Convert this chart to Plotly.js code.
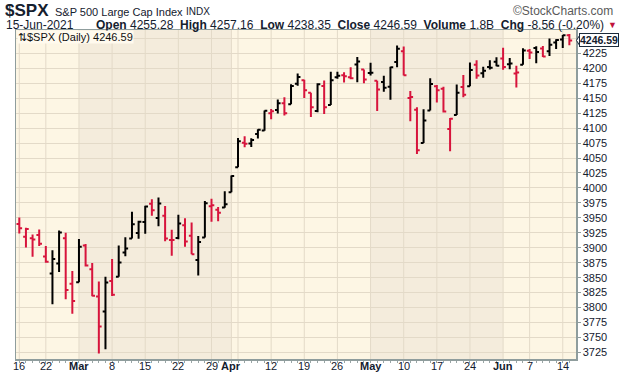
<!DOCTYPE html>
<html>
<head>
<meta charset="utf-8">
<script src="https://cdn.plot.ly/plotly-3.0.1.min.js"></script>
<style>
html,body{margin:0;padding:0;background:#fff;}
#chart{width:620px;height:376px;}
</style>
</head>
<body>
<div id="chart"></div>
<script>
// ---- data ----
const dates = [
"2021-02-16","2021-02-17","2021-02-18","2021-02-19",
"2021-02-22","2021-02-23","2021-02-24","2021-02-25","2021-02-26",
"2021-03-01","2021-03-02","2021-03-03","2021-03-04","2021-03-05",
"2021-03-08","2021-03-09","2021-03-10","2021-03-11","2021-03-12",
"2021-03-15","2021-03-16","2021-03-17","2021-03-18","2021-03-19",
"2021-03-22","2021-03-23","2021-03-24","2021-03-25","2021-03-26",
"2021-03-29","2021-03-30","2021-03-31","2021-04-01",
"2021-04-05","2021-04-06","2021-04-07","2021-04-08","2021-04-09",
"2021-04-12","2021-04-13","2021-04-14","2021-04-15","2021-04-16",
"2021-04-19","2021-04-20","2021-04-21","2021-04-22","2021-04-23",
"2021-04-26","2021-04-27","2021-04-28","2021-04-29","2021-04-30",
"2021-05-03","2021-05-04","2021-05-05","2021-05-06","2021-05-07",
"2021-05-10","2021-05-11","2021-05-12","2021-05-13","2021-05-14",
"2021-05-17","2021-05-18","2021-05-19","2021-05-20","2021-05-21",
"2021-05-24","2021-05-25","2021-05-26","2021-05-27","2021-05-28",
"2021-06-01","2021-06-02","2021-06-03","2021-06-04",
"2021-06-07","2021-06-08","2021-06-09","2021-06-10","2021-06-11",
"2021-06-14","2021-06-15"];
const openV = [
3939.61,3918.50,3915.86,3921.16,
3885.55,3857.07,3873.71,3915.80,3839.66,
3842.51,3903.64,3863.99,3818.53,3793.58,
3844.39,3851.69,3891.99,3915.54,3924.52,
3942.96,3973.59,3949.57,3953.50,3913.14,
3916.48,3937.60,3919.93,3879.34,3917.12,
3969.31,3963.34,3967.25,3992.78,
4034.44,4075.57,4074.29,4089.95,4096.11,
4124.71,4130.10,4141.58,4139.76,4174.14,
4179.80,4159.18,4128.42,4170.46,4138.78,
4185.03,4188.25,4185.14,4206.14,4198.10,
4191.98,4179.04,4177.06,4169.14,4210.34,
4228.29,4150.34,4130.55,4074.99,4129.58,
4169.92,4165.94,4098.45,4121.97,4168.61,
4170.16,4205.94,4191.59,4201.94,4210.77,
4216.52,4206.82,4191.43,4206.05,
4229.34,4233.81,4232.99,4228.56,4242.90,
4248.31,4255.28];
const highV = [
3950.43,3933.61,3921.98,3930.41,
3902.92,3895.98,3928.65,3925.02,3861.08,
3914.50,3906.41,3874.47,3843.67,3851.69,
3881.06,3903.76,3917.35,3960.27,3944.99,
3970.08,3981.04,3983.87,3969.62,3930.12,
3955.31,3949.13,3942.08,3919.54,3978.19,
3981.83,3968.01,3994.41,4020.63,
4083.42,4086.23,4083.13,4098.19,4129.48,
4131.76,4148.00,4151.69,4173.49,4191.31,
4180.81,4159.18,4175.02,4179.57,4194.17,
4194.19,4193.35,4201.53,4218.78,4198.10,
4209.39,4179.04,4187.72,4202.70,4238.04,
4236.39,4162.04,4134.73,4131.58,4183.13,
4171.92,4169.15,4116.93,4172.80,4188.72,
4209.52,4213.42,4202.61,4213.38,4218.36,
4234.12,4217.37,4204.39,4233.45,
4232.34,4236.74,4237.09,4249.74,4248.38,
4255.59,4257.16];
const lowV = [
3923.85,3900.43,3885.03,3903.07,
3874.71,3805.59,3859.60,3814.04,3789.54,
3842.51,3868.57,3818.86,3723.34,3730.19,
3819.25,3851.69,3885.73,3915.54,3915.21,
3923.54,3953.44,3935.74,3910.86,3886.75,
3914.16,3901.57,3889.07,3853.50,3917.12,
3943.25,3944.35,3966.98,3992.78,
4034.44,4068.14,4068.31,4082.54,4095.51,
4114.82,4124.43,4120.87,4139.76,4170.75,
4150.47,4118.38,4126.35,4123.69,4138.78,
4182.36,4176.22,4181.78,4176.81,4174.85,
4188.03,4128.59,4160.94,4147.33,4201.64,
4188.13,4111.53,4056.88,4074.99,4129.58,
4142.69,4125.99,4061.41,4121.97,4151.72,
4170.16,4182.52,4184.11,4197.78,4203.57,
4197.59,4198.27,4167.93,4206.05,
4215.66,4208.41,4218.74,4220.34,4232.25,
4234.07,4238.35];
const closeV = [
3932.59,3931.33,3913.97,3906.71,
3876.50,3881.37,3925.43,3829.34,3811.15,
3901.82,3870.29,3819.72,3768.47,3841.94,
3821.35,3875.44,3898.81,3939.34,3943.34,
3968.94,3962.71,3974.12,3915.46,3913.10,
3940.59,3910.52,3889.14,3909.52,3974.54,
3971.09,3958.55,3972.89,4019.87,
4077.91,4073.94,4079.95,4097.17,4128.80,
4127.99,4141.59,4124.66,4170.42,4185.47,
4163.26,4134.94,4173.42,4134.98,4180.17,
4187.62,4186.72,4183.18,4211.47,4181.17,
4192.66,4164.66,4167.59,4201.62,4232.60,
4188.43,4152.10,4063.04,4112.50,4173.85,
4163.29,4127.83,4115.68,4159.12,4155.86,
4197.05,4188.13,4195.99,4200.88,4204.11,
4202.04,4208.12,4192.85,4229.89,
4226.52,4227.26,4219.55,4239.18,4247.44,
4255.15,4246.59];
const priorClose = 3934.83;

// x-axis labels
const labelDates = ["2021-02-16","2021-02-22","2021-03-01","2021-03-08","2021-03-15","2021-03-22","2021-03-29","2021-04-01","2021-04-12","2021-04-19","2021-04-26","2021-05-03","2021-05-10","2021-05-17","2021-05-24","2021-06-01","2021-06-07","2021-06-14"];
const labelText = ["16","22","<b>Mar</b>","8","15","22","29","<b>Apr</b>","12","19","26","<b>May</b>","10","17","24","<b>Jun</b>","7","14"];
const gridDates = ["2021-02-16","2021-02-22","2021-03-01","2021-03-08","2021-03-15","2021-03-22","2021-03-29","2021-04-01","2021-04-05","2021-04-12","2021-04-19","2021-04-26","2021-05-03","2021-05-10","2021-05-17","2021-05-24","2021-06-01","2021-06-07","2021-06-14"];
const shadedMonths = [["2021-03-01","2021-04-01"],["2021-05-03","2021-06-01"]];
// y-axis ticks (4250 is hidden behind the last-price tag)
const yTickVals = [3725,3750,3775,3800,3825,3850,3875,3900,3925,3950,3975,4000,4025,4050,4075,4100,4125,4150,4175,4200,4225,4250];
const yTickText = ["3725","3750","3775","3800","3825","3850","3875","3900","3925","3950","3975","4000","4025","4050","4075","4100","4125","4150","4175","4200","4225",""];

// ---- split up / down days vs previous close ----
const up = {x:[],o:[],h:[],l:[],c:[]}, dn = {x:[],o:[],h:[],l:[],c:[]};
for (let i=0;i<dates.length;i++){
  const prev = i===0 ? priorClose : closeV[i-1];
  const t = closeV[i] >= prev ? up : dn;
  t.x.push(dates[i]); t.o.push(openV[i]); t.h.push(highV[i]); t.l.push(lowV[i]); t.c.push(closeV[i]);
}
const BLACK = '#000000', RED = '#d7143c';
function ohlc(t,col){
  return {type:'ohlc', x:t.x, open:t.o, high:t.h, low:t.l, close:t.c,
    increasing:{line:{color:col,width:2}}, decreasing:{line:{color:col,width:2}},
    tickwidth:0.42, hoverinfo:'skip', showlegend:false};
}
const traces = [ohlc(up,BLACK), ohlc(dn,RED)];

const L=16, R=576, T=30, B=359.3;
const px = x => (x-L)/(R-L);
const py = y => (B-y)/(B-T);

const shapes = [];
shadedMonths.forEach(([a,b]) => shapes.push({type:'rect', xref:'x', yref:'paper',
  x0:dates.indexOf(a), x1:dates.indexOf(b), y0:0, y1:1, fillcolor:'#f4ecdc', line:{width:0}, layer:'below'}));
gridDates.forEach(d => shapes.push({type:'line', xref:'x', yref:'paper',
  x0:dates.indexOf(d), x1:dates.indexOf(d), y0:0, y1:1, line:{color:'#e3dac8', width:1}, layer:'below'}));
// pointer of last-price tag
const last = closeV[closeV.length-1];
shapes.push({type:'path', xref:'paper', yref:'y', layer:'above',
  path:`M ${px(576.5)} ${last} L ${px(580)} ${last+9.5} L ${px(580)} ${last-9.5} Z`,
  fillcolor:'#ffffff', line:{color:'#1b2a3a', width:1}});

const TXT = '#14202e', FONT = 'Liberation Sans, Arial, sans-serif';
const annotations = [
  {xref:'paper', yref:'paper', x:px(3), y:py(10.5), xanchor:'left', yanchor:'middle', showarrow:false,
   text:'<b>$SPX</b>', font:{family:FONT, size:17, color:TXT}},
  {xref:'paper', yref:'paper', x:px(53), y:py(11.5), xanchor:'left', yanchor:'middle', showarrow:false,
   text:'S&P 500 Large Cap Index', font:{family:FONT, size:11, color:TXT}},
  {xref:'paper', yref:'paper', x:px(184), y:py(11.5), xanchor:'left', yanchor:'middle', showarrow:false,
   text:'INDX', font:{family:FONT, size:10, color:TXT}},
  {xref:'paper', yref:'paper', x:px(615), y:py(11), xanchor:'right', yanchor:'middle', showarrow:false,
   text:'©StockCharts.com', font:{family:FONT, size:12, color:'#5a5a5a'}},
  {xref:'paper', yref:'paper', x:px(4), y:py(24.5), xanchor:'left', yanchor:'middle', showarrow:false,
   text:'15-Jun-2021', font:{family:FONT, size:12, color:TXT}},
  {xref:'paper', yref:'paper', x:px(606), y:py(24.5), xanchor:'right', yanchor:'middle', showarrow:false,
   text:'<b>Open</b> 4255.28  <b>High</b> 4257.16  <b>Low</b> 4238.35  <b>Close</b> 4246.59  <b>Volume</b> 1.8B  <b>Chg</b> -8.56 (-0.20%)',
   font:{family:FONT, size:12, color:TXT}},
  {xref:'paper', yref:'paper', x:px(612), y:py(25), xanchor:'center', yanchor:'middle', showarrow:false,
   text:'▼', font:{family:FONT, size:9, color:'#c0143c'}},
  {xref:'paper', yref:'paper', x:px(17), y:py(30.5), xanchor:'left', yanchor:'top', showarrow:false,
   text:'⇅$SPX (Daily) 4246.59', font:{family:FONT, size:11, color:'#111111'},
   bgcolor:'#fffaee', borderpad:0},
  {xref:'paper', yref:'y', x:px(579), y:last, xanchor:'left', yanchor:'middle', showarrow:false,
   text:'<b>4246.59</b>', font:{family:FONT, size:10.5, color:TXT},
   bgcolor:'#ffffff', bordercolor:'#1b2a3a', borderwidth:1, borderpad:0}
];
// x tick labels placed just under the axis
labelDates.forEach((d,k) => annotations.push({xref:'x', yref:'paper', x:dates.indexOf(d), y:py(366.5),
  xanchor:'center', yanchor:'middle', showarrow:false, text:labelText[k],
  font:{family:FONT, size:11, color:TXT}}));

const layout = {
  width:620, height:376,
  margin:{l:L, r:620-R, t:T, b:376-B, pad:0},
  paper_bgcolor:'#ffffff', plot_bgcolor:'#fdf6e4',
  showlegend:false, dragmode:false, hovermode:false,
  font:{family:FONT, size:11, color:TXT},
  xaxis:{type:'category', categoryorder:'array', categoryarray:dates,
    range:[-0.5, 84], rangeslider:{visible:false},
    tickmode:'array', tickvals:dates, showticklabels:false,
    ticks:'outside', ticklen:2, tickwidth:1, tickcolor:'#9aa6a6',
    showgrid:false, zeroline:false,
    showline:true, linecolor:'#8f9d9d', linewidth:1.5, mirror:true, fixedrange:true},
  yaxis:{side:'right', range:[3714, 4264], tickmode:'array', tickvals:yTickVals, ticktext:yTickText,
    ticks:'outside', ticklen:3, tickcolor:'#8f9d9d',
    showgrid:true, gridcolor:'#e3dac8', gridwidth:1, zeroline:false,
    showline:true, linecolor:'#8f9d9d', linewidth:1.5, mirror:true,
    tickfont:{family:FONT, size:11, color:TXT}, fixedrange:true},
  shapes:shapes, annotations:annotations
};
Plotly.newPlot('chart', traces, layout, {staticPlot:true, displayModeBar:false});
</script>
</body>
</html>
